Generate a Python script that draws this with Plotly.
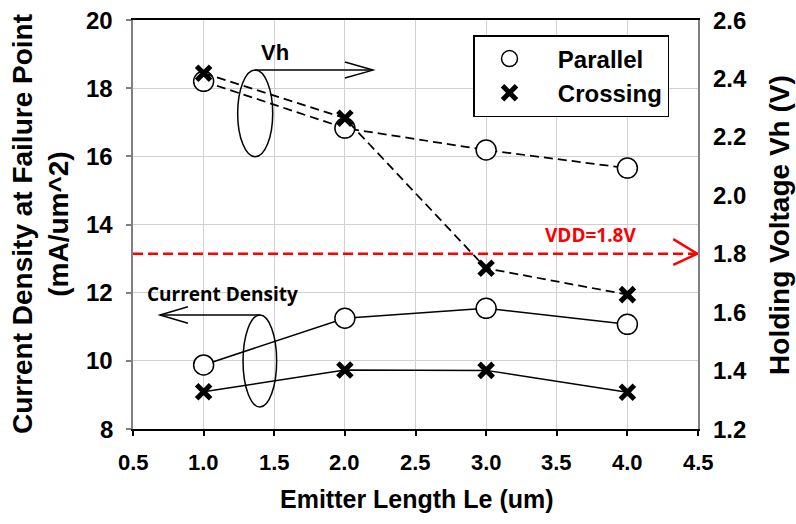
import plotly.graph_objects as go

# ---- data ----
emitter_length = [1.0, 2.0, 3.0, 4.0]
jd_parallel = [9.88, 11.25, 11.54, 11.07]      # current density, left axis
jd_crossing = [9.09, 9.73, 9.72, 9.08]
vh_parallel = [2.39, 2.23, 2.155, 2.093]       # holding voltage, right axis
vh_crossing = [2.418, 2.264, 1.75, 1.66]
vdd_level = 1.8
vdd_label = "VDD=1.8V"
x_tick_vals = [0.5, 1.0, 1.5, 2.0, 2.5, 3.0, 3.5, 4.0, 4.5]
y_left_ticks = [8, 10, 12, 14, 16, 18, 20]
y_right_ticks = [1.2, 1.4, 1.6, 1.8, 2.0, 2.2, 2.4, 2.6]

FONT = "Liberation Sans"
CAL = "Open Sans"

circle_marker = dict(symbol="circle", size=20, color="white",
                     line=dict(color="black", width=1.5))
cross_marker = dict(symbol="x-thin", size=14, color="black",
                    line=dict(color="black", width=5))

fig = go.Figure()

# Current density (solid lines, left axis)
fig.add_trace(go.Scatter(x=emitter_length, y=jd_parallel, mode="lines+markers",
                         line=dict(color="black", width=1.5), marker=circle_marker,
                         showlegend=False, yaxis="y"))
fig.add_trace(go.Scatter(x=emitter_length, y=jd_crossing, mode="lines+markers",
                         line=dict(color="black", width=1.5), marker=cross_marker,
                         showlegend=False, yaxis="y"))
# Holding voltage (dashed lines, right axis)
fig.add_trace(go.Scatter(x=emitter_length, y=vh_parallel, mode="lines+markers",
                         line=dict(color="black", width=1.75, dash="9px,5px"),
                         marker=circle_marker, showlegend=False, yaxis="y2"))
fig.add_trace(go.Scatter(x=emitter_length, y=vh_crossing, mode="lines+markers",
                         line=dict(color="black", width=1.75, dash="9px,5px"),
                         marker=cross_marker, showlegend=False, yaxis="y2"))
# legend entries
fig.add_trace(go.Scatter(x=[None], y=[None], mode="markers",
                         name="&nbsp;&nbsp;Parallel", marker=circle_marker))
fig.add_trace(go.Scatter(x=[None], y=[None], mode="markers",
                         name="&nbsp;&nbsp;Crossing", marker=cross_marker))

shapes = []
# VDD reference line with open arrow head
shapes.append(dict(type="line", xref="x", yref="y2", x0=0.5, x1=4.495,
                   y0=vdd_level, y1=vdd_level,
                   line=dict(color="#ff0000", width=2.5, dash="10px,5px")))
shapes.append(dict(type="path", xref="x", yref="y2",
                   path="M 4.325 1.85 L 4.495 1.8 L 4.325 1.762",
                   line=dict(color="#ff0000", width=2.5)))
# Vh ellipse + arrow to the right
shapes.append(dict(type="circle", xref="x", yref="y", x0=1.241, x1=1.489,
                   y0=15.99, y1=18.53, line=dict(color="black", width=1.5)))
shapes.append(dict(type="line", xref="x", yref="y", x0=1.364, x1=2.199,
                   y0=18.53, y1=18.53, line=dict(color="black", width=1.5)))
shapes.append(dict(type="path", xref="x", yref="y",
                   path="M 2.0 18.77 L 2.199 18.53 L 2.0 18.30",
                   line=dict(color="black", width=1.5)))
# Current density ellipse + arrow to the left
shapes.append(dict(type="circle", xref="x", yref="y", x0=1.279, x1=1.517,
                   y0=8.646, y1=11.345, line=dict(color="black", width=1.5)))
shapes.append(dict(type="line", xref="x", yref="y", x0=1.399, x1=0.691,
                   y0=11.345, y1=11.345, line=dict(color="black", width=1.5)))
shapes.append(dict(type="path", xref="x", yref="y",
                   path="M 0.889 11.588 L 0.691 11.345 L 0.889 11.101",
                   line=dict(color="black", width=1.5)))

annotations = [
    dict(text="Vh", x=1.505, y=19.06, xref="x", yref="y", showarrow=False,
         font=dict(family=FONT, size=22, color="black", weight="bold")),
    dict(text="Current Density", x=1.134, y=11.96, xref="x", yref="y",
         showarrow=False, font=dict(family=CAL, size=19, color="black", weight="bold")),
    dict(text=vdd_label, x=3.742, y=1.863, xref="x", yref="y2",
         showarrow=False, font=dict(family=CAL, size=19, color="#ff0000", weight="bold")),
    # axis titles
    dict(text="Current Density at Failure Point<br>(mA/um^2)", textangle=-90,
         x=(40 - 133) / 565, y=0.501, xref="paper", yref="paper",
         xanchor="center", yanchor="middle", showarrow=False,
         font=dict(family=FONT, size=28, color="black", weight="bold")),
    dict(text="Holding Voltage Vh (V)", textangle=-90,
         x=(780 - 133) / 565, y=0.499, xref="paper", yref="paper",
         xanchor="center", yanchor="middle", showarrow=False,
         font=dict(family=FONT, size=28, color="black", weight="bold")),
    dict(text="Emitter Length Le (um)",
         x=(417 - 133) / 565, y=(429 - 499) / 409, xref="paper", yref="paper",
         xanchor="center", yanchor="middle", showarrow=False,
         font=dict(family=FONT, size=25, color="black", weight="bold")),
]

# bold tick labels, placed on the axes' own scales
tick_font_x = dict(family=FONT, size=22, color="black", weight="bold")
tick_font_y = dict(family=FONT, size=24, color="black", weight="bold")
for v in x_tick_vals:
    annotations.append(dict(text=format(v, ".1f"), x=v, xref="x",
                            y=(429 - 462) / 409, yref="paper",
                            xanchor="center", yanchor="middle", showarrow=False,
                            font=tick_font_x))
for v in y_left_ticks:
    annotations.append(dict(text=format(v, "d"), y=v, yref="y",
                            x=(115 - 133) / 565, xref="paper",
                            xanchor="right", yanchor="middle", showarrow=False,
                            font=tick_font_y))
for v in y_right_ticks:
    annotations.append(dict(text=format(v, ".1f"), y=v, yref="y2",
                            x=(711 - 133) / 565, xref="paper",
                            xanchor="left", yanchor="middle", showarrow=False,
                            font=tick_font_y))

fig.update_layout(
    width=796, height=524,
    margin=dict(l=133, r=98, t=20, b=95, pad=0),
    paper_bgcolor="white", plot_bgcolor="white",
    shapes=shapes, annotations=annotations,
    font=dict(family=FONT, color="black", size=22),
    legend=dict(x=(473 - 133) / 565, y=(429 - 35) / 409, xanchor="left", yanchor="top",
                bgcolor="white", bordercolor="black", borderwidth=1.5,
                itemwidth=60,
                font=dict(family=FONT, size=24, color="black", weight="bold")),
    xaxis=dict(range=[0.5, 4.5], tickvals=x_tick_vals, showticklabels=False,
               showgrid=True, gridcolor="#d0d0d0", gridwidth=1,
               showline=True, linecolor="black", linewidth=1.5, mirror=True,
               ticks="outside", ticklen=5, tickcolor="black", tickwidth=1.5,
               zeroline=False),
    yaxis=dict(range=[8, 20], tickvals=y_left_ticks, showticklabels=False,
               showgrid=True, gridcolor="#d0d0d0", gridwidth=1,
               showline=True, linecolor="#808080", linewidth=1.5, mirror=True,
               ticks="outside", ticklen=5, tickcolor="#808080", tickwidth=1.5,
               zeroline=False),
    yaxis2=dict(range=[1.2, 2.6], tickvals=y_right_ticks, showticklabels=False,
                overlaying="y", side="right", showgrid=False, showline=False,
                ticks="", zeroline=False),
)

fig.write_html("out.html")
